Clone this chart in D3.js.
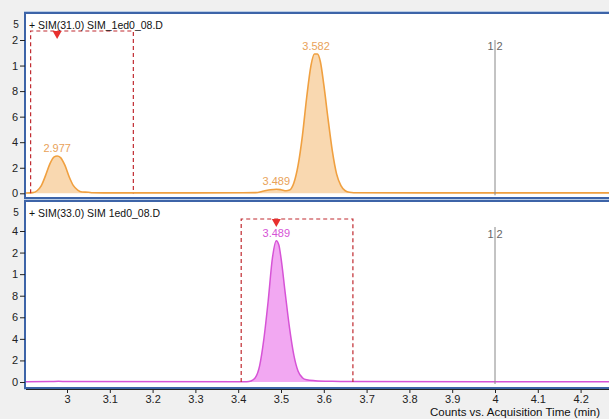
<!DOCTYPE html>
<html>
<head>
<meta charset="utf-8">
<script src="https://cdn.jsdelivr.net/npm/d3@7"></script>
<style>
body{margin:0;background:#f0f0f0;}
svg{display:block;font-family:"Liberation Sans",Arial,sans-serif;}
.tick text{font-size:11px;fill:#222;}
</style>
</head>
<body>
<div id="chart"></div>
<script>
// ---- data (time in min, counts x10^5) ----
var xTicks = [3, 3.1, 3.2, 3.3, 3.4, 3.5, 3.6, 3.7, 3.8, 3.9, 4, 4.1, 4.2];
var xTickLabels = ["3", "3.1", "3.2", "3.3", "3.4", "3.5", "3.6", "3.7", "3.8", "3.9", "4", "4.1", "4.2"];

var topTitle = "+ SIM(31.0) SIM_1ed0_08.D";
var topTicks = [0, 0.2, 0.4, 0.6, 0.8, 1.0, 1.2];
var topTickLabels = ["0", "2", "4", "6", "8", "1", "2"];   // cut off on the left like the original
var topTime = [2.90, 2.92, 2.93, 2.94, 2.95, 2.96, 2.97, 2.977, 2.985, 2.995, 3.005, 3.015, 3.025, 3.035, 3.05, 3.06, 3.1, 3.3, 3.44, 3.46, 3.475, 3.489, 3.50, 3.512, 3.52, 3.53, 3.54, 3.55, 3.56, 3.57, 3.578, 3.585, 3.592, 3.60, 3.61, 3.62, 3.63, 3.64, 3.65, 3.66, 3.68, 4.0, 4.3];
var topCounts = [0.002, 0.005, 0.02, 0.06, 0.14, 0.23, 0.285, 0.292, 0.28, 0.22, 0.13, 0.06, 0.025, 0.01, 0.008, 0.004, 0.003, 0.003, 0.005, 0.018, 0.028, 0.032, 0.028, 0.02, 0.025, 0.08, 0.22, 0.45, 0.75, 1.0, 1.09, 1.09, 1.03, 0.85, 0.58, 0.33, 0.15, 0.06, 0.02, 0.008, 0.004, 0.003, 0.003];
var topPeaks = [{rt: 2.977, h: 0.292}, {rt: 3.489, h: 0.032}, {rt: 3.582, h: 1.09}];
var topWindow = [2.915, 3.155];
var topMarker = 2.977;

var botTitle = "+ SIM(33.0) SIM 1ed0_08.D";
var botTicks = [0, 0.2, 0.4, 0.6, 0.8, 1.0, 1.2, 1.4];
var botTickLabels = ["0", "2", "4", "6", "8", "1", "2", "4"];
var botTime = [2.90, 2.96, 2.98, 3.0, 3.42, 3.43, 3.44, 3.45, 3.46, 3.47, 3.48, 3.489, 3.495, 3.50, 3.51, 3.52, 3.53, 3.54, 3.55, 3.56, 3.58, 3.62, 3.66, 4.3];
var botCounts = [0.003, 0.004, 0.007, 0.004, 0.003, 0.01, 0.04, 0.15, 0.4, 0.75, 1.15, 1.31, 1.27, 1.15, 0.82, 0.5, 0.25, 0.1, 0.04, 0.02, 0.012, 0.006, 0.004, 0.003];
var botPeaks = [{rt: 3.489, h: 1.31}];
var botWindow = [3.407, 3.668];
var botMarker = 3.489;

var exponent = "5";
var xTitle = "Counts vs. Acquisition Time (min)";
var refLine = 4;

(function(){
	var W = 609, H = 419;
	var svg = d3.select("#chart").append("svg").attr("width", W).attr("height", H);
	svg.append("rect").attr("width", W).attr("height", H).attr("fill", "#f0f0f0");

	var x = d3.scaleLinear().domain([3, 4]).range([67, 495]);

	var panels = [
		{title: topTitle, top: 13, bottom: 198, y0: 193.3, yMaxPx: 40, yMax: 1.2, ticks: topTicks, labels: topTickLabels,
		 time: topTime, counts: topCounts, peaks: topPeaks, win: topWindow, marker: topMarker, winTop: 31, refTop: 40, refLab: 46,
		 line: "#f0a040", fill: "#f9d8b0", text: "#e9a259", lw: 1.6},
		{title: botTitle, top: 201, bottom: 388, y0: 382, yMaxPx: 231, yMax: 1.4, ticks: botTicks, labels: botTickLabels,
		 time: botTime, counts: botCounts, peaks: botPeaks, win: botWindow, marker: botMarker, winTop: 219, refTop: 227, refLab: 234,
		 line: "#d653d6", fill: "#f2a8f2", text: "#d653d6", lw: 1.5}
	];

	panels.forEach(function(p, i){
		var y = d3.scaleLinear().domain([0, p.yMax]).range([p.y0, p.yMaxPx]);
		var g = svg.append("g");
		var clipId = "clip" + i;
		svg.append("clipPath").attr("id", clipId).append("rect")
			.attr("x", 26).attr("y", p.top + 1).attr("width", W - 26).attr("height", p.bottom - p.top - 2);

		// frame
		g.append("rect").attr("x", 24.5).attr("y", p.top - 1.5).attr("width", W).attr("height", p.bottom - p.top + 3)
			.attr("fill", "none").attr("stroke", "#b9cce6").attr("stroke-width", 1);
		g.append("rect").attr("x", 25).attr("y", p.top).attr("width", W).attr("height", p.bottom - p.top)
			.attr("fill", "#fff").attr("stroke", "#3d64a8").attr("stroke-width", 2);

		var plot = g.append("g").attr("clip-path", "url(#" + clipId + ")");
		var pts = p.time.map(function(t, k){ return [t, p.counts[k]]; });

		plot.append("path").datum(pts)
			.attr("fill", p.fill)
			.attr("d", d3.area().curve(d3.curveMonotoneX).x(function(d){return x(d[0]);}).y0(y(0)).y1(function(d){return y(d[1]);}));
		plot.append("path").datum(pts)
			.attr("fill", "none").attr("stroke", p.line).attr("stroke-width", p.lw)
			.attr("d", d3.line().curve(d3.curveMonotoneX).x(function(d){return x(d[0]);}).y(function(d){return y(d[1]);}));

		// reference line
		plot.append("line").attr("x1", x(refLine)).attr("x2", x(refLine))
			.attr("y1", p.refTop).attr("y2", p.y0 + 2).attr("stroke", "#888").attr("stroke-width", 1);
		plot.append("text").attr("x", x(refLine) - 1.5).attr("y", p.refLab + 4).attr("text-anchor", "end")
			.attr("font-size", 11).attr("fill", "#666").text("1");
		plot.append("text").attr("x", x(refLine) + 1.5).attr("y", p.refLab + 4)
			.attr("font-size", 11).attr("fill", "#666").text("2");

		// integration window
		plot.append("path")
			.attr("d", "M" + x(p.win[0]) + "," + p.y0 + "V" + p.winTop + "H" + x(p.win[1]) + "V" + p.y0)
			.attr("fill", "none").attr("stroke", "#c02a30").attr("stroke-width", 1.2).attr("stroke-dasharray", "4,3");
		var mx = x(p.marker);
		plot.append("path").attr("d", "M" + (mx - 4.5) + "," + p.winTop + "L" + (mx + 4.5) + "," + p.winTop + "L" + mx + "," + (p.winTop + 8) + "Z")
			.attr("fill", "#e8302e");

		// peak labels
		plot.selectAll(".pk").data(p.peaks).enter().append("text")
			.attr("x", function(d){return x(d.rt);})
			.attr("y", function(d){return y(d.h) - 4;})
			.attr("text-anchor", "middle").attr("font-size", 11).attr("fill", p.text)
			.text(function(d){return d.rt.toFixed(3);});

		// title
		g.append("text").attr("x", 29).attr("y", p.top + 16).attr("font-size", 10.5).attr("fill", "#111").text(p.title);

		// y axis
		var ax = g.append("g").attr("transform", "translate(25,0)")
			.call(d3.axisLeft(y).tickValues(p.ticks).tickFormat(function(d, k){return p.labels[k];}).tickSize(5).tickPadding(2));
		ax.select(".domain").remove();
		ax.selectAll(".tick line").attr("stroke", "#222");
		ax.selectAll(".tick text").attr("font-size", 12);
		g.append("text").attr("x", 16).attr("y", p.top + 15).attr("text-anchor", "middle").attr("font-size", 10).attr("fill", "#222").text(exponent);
	});

	// x axis
	var xa = svg.append("g").attr("transform", "translate(0,389)")
		.call(d3.axisBottom(x).tickValues(xTicks).tickFormat(function(d, k){return xTickLabels[k];}).tickSize(4).tickPadding(2));
	xa.select(".domain").attr("d", "M26,0.5H" + W).attr("stroke", "#222");
	xa.selectAll(".tick line").attr("stroke", "#222");
	xa.selectAll(".tick text").attr("font-size", 11);
	svg.append("text").attr("x", 600).attr("y", 416).attr("text-anchor", "end").attr("font-size", 11.5).attr("fill", "#111").text(xTitle);
})();
</script>
</body>
</html>
